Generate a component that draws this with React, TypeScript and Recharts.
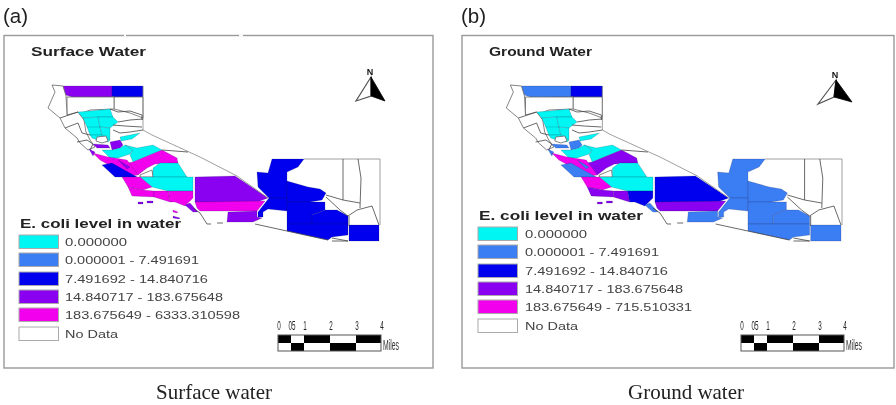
import React from 'react';
import { ScatterChart, Scatter, XAxis, YAxis } from 'recharts';

type Pt = [number, number];

const WIDTH = 896;
const HEIGHT = 405;

// class colours, index = legend row, last one is "No Data"
const classColors = ['#00f6f2', '#3b7df2', '#0000ee', '#8a00f0', '#f200ee', '#ffffff'];

// map outlines, in map units of the surface water panel
const countyNames = [
  'Siskiyou', 'Modoc', 'Lassen', 'Shasta', 'NorthCoast', 'Tehama', 'Glenn', 'Butte', 'Colusa', 'Sutter',
  'Yolo', 'Solano', 'ContraCosta', 'SanJoaquin', 'Placer', 'Stanislaus', 'Madera', 'Fresno', 'SantaCruz', 'SantaClara',
  'Monterey', 'SanBenito', 'Kings', 'Tulare', 'Kern', 'SanLuisObispo', 'SantaBarbara', 'Ventura', 'LosAngeles', 'Orange',
  'SanBernardino', 'Riverside', 'Imperial', 'Mohave', 'LaPaz', 'Coconino', 'Maricopa', 'Pinal', 'Pima', 'Cochise',
  'Island1', 'Island2', 'Island3', 'Island4',
];

const countyShapes: Pt[][] = [
  [[63, 86], [112, 86], [112, 97], [92, 97], [84, 99], [72, 97], [66, 95], [63, 90]],
  [[112, 86], [143, 86], [143, 97], [112, 97]],
  [[112, 97], [143, 97], [143, 118], [130, 113], [114, 109], [114, 97]],
  [[67, 97], [92, 97], [114, 97], [114, 109], [90, 110], [78, 115], [67, 115]],
  [[52, 85], [63, 86], [66, 96], [67, 115], [78, 112], [84, 120], [86, 132], [90, 140], [95, 147], [88, 150], [80, 143], [77, 138], [65, 128], [60, 118], [48, 108], [55, 92]],
  [[78, 112], [90, 111], [110, 109], [113, 117], [98, 117], [83, 118]],
  [[83, 118], [98, 117], [100, 127], [92, 129], [87, 127]],
  [[98, 117], [113, 117], [118, 122], [110, 128], [100, 127]],
  [[87, 127], [100, 127], [102, 135], [90, 135]],
  [[100, 127], [110, 128], [110, 140], [102, 135]],
  [[90, 135], [102, 135], [110, 140], [108, 142], [100, 141], [92, 138]],
  [[97, 137], [106, 136], [108, 141], [102, 143], [96, 141]],
  [[93, 144], [108, 145], [110, 148], [97, 148]],
  [[110, 142], [120, 140], [123, 145], [120, 148], [112, 150]],
  [[120, 137], [140, 133], [132, 139], [121, 141]],
  [[102, 150], [112, 150], [120, 148], [125, 145], [133, 150], [130, 154], [118, 158], [110, 158]],
  [[125, 145], [137, 148], [153, 145], [162, 150], [145, 157], [133, 162], [130, 155], [133, 150]],
  [[133, 162], [145, 157], [162, 150], [177, 158], [178, 163], [155, 164], [147, 168], [138, 175], [127, 163]],
  [[89, 149], [95, 152], [93, 156]],
  [[93, 153], [108, 157], [127, 160], [133, 168], [138, 175], [130, 176], [118, 170], [100, 160]],
  [[102, 165], [112, 163], [137, 177], [115, 177]],
  [[118, 160], [130, 167], [127, 169]],
  [[140, 175], [152, 170], [153, 177], [140, 177]],
  [[153, 177], [153, 168], [160, 163], [178, 163], [187, 177]],
  [[140, 177], [193, 177], [193, 191], [168, 191], [152, 187]],
  [[122, 177], [140, 177], [152, 187], [143, 190], [128, 187]],
  [[128, 187], [143, 190], [154, 191], [154, 197], [132, 196]],
  [[154, 191], [168, 191], [170, 202], [154, 197]],
  [[168, 191], [193, 191], [193, 198], [185, 206], [175, 202], [170, 202]],
  [[185, 205], [190, 203], [198, 212], [193, 212]],
  [[195, 177], [235, 176], [268, 198], [257, 202], [195, 202]],
  [[195, 202], [265, 201], [257, 211], [200, 211], [197, 208]],
  [[228, 212], [257, 211], [257, 217], [262, 218], [253, 222], [227, 222]],
  [[257, 172], [268, 173], [272, 159], [304, 159], [298, 167], [287, 172], [287, 198], [269, 198], [258, 187]],
  [[269, 198], [287, 198], [287, 211], [268, 209], [263, 212], [263, 217], [258, 217], [258, 212]],
  [[287, 181], [308, 187], [320, 189], [326, 193], [322, 200], [310, 202], [287, 202]],
  [[287, 202], [310, 202], [325, 202], [325, 210], [312, 215], [312, 224], [287, 224]],
  [[312, 215], [325, 210], [337, 210], [348, 216], [348, 224], [312, 224]],
  [[287, 224], [348, 224], [348, 235], [332, 237], [328, 240], [287, 231]],
  [[349, 225], [379, 225], [379, 241], [349, 241]],
  [[138, 202], [143, 202], [143, 204], [138, 204]],
  [[147, 201], [153, 201], [153, 203], [147, 203]],
  [[173, 210], [178, 212], [177, 213], [173, 212]],
  [[173, 216], [180, 218], [179, 219], [173, 218]],
];

// legend class of each county, same order as countyNames, -1 = not drawn
const surfaceClass = [
  3, 2, 5, 5, 5, 0, 0, 0, 0, 0,
  0, 5, 3, 3, 0, 0, 0, 4, 3, 4,
  2, 3, 5, 0, 0, 4, 4, 4, 4, 3,
  3, 4, 3, 2, 2, 2, 2, 2, 2, 2,
  3, 3, 4, 3,
];
const groundClass = [
  1, 2, 5, 5, 5, 0, 0, 0, 0, 0,
  0, 5, 1, 1, 0, 0, 0, 3, 1, 4,
  1, 1, 5, 0, 0, 4, 3, 3, 2, 1,
  2, 3, 1, 1, 1, 1, 1, 1, 1, 1,
  3, 3, -1, -1,
];

const boundaryLines: Pt[][] = [
  [[143, 86], [143, 130], [152, 135], [200, 157], [237, 176], [268, 198]],
  [[162, 150], [188, 152]],
  [[110, 109], [118, 112], [130, 111], [142, 115], [142, 120]],
  [[118, 122], [130, 120], [143, 119]],
  [[113, 125], [125, 126], [142, 127]],
  [[113, 130], [120, 133], [130, 132], [143, 130]],
  [[60, 118], [78, 112]],
  [[65, 128], [78, 123], [82, 133], [90, 135]],
  [[77, 142], [87, 140], [93, 144], [90, 150]],
  [[304, 159], [380, 159], [380, 225]],
  [[343, 159], [343, 200], [360, 203]],
  [[358, 159], [361, 178], [360, 208]],
  [[326, 197], [340, 210], [348, 216], [357, 210], [372, 206], [379, 225]],
  [[326, 195], [343, 200]],
  [[349, 226], [349, 216]],
  [[332, 238], [348, 241], [332, 241]],
  [[255, 224], [287, 231], [328, 240]],
  [[200, 213], [207, 224], [211, 224]],
  [[217, 223], [223, 223]],
  [[193, 208], [200, 213]],
];

const legendRanges = [
  '0.000000',
  '0.000001 - 7.491691',
  '7.491692 - 14.840716',
  '14.840717 - 183.675648',
];
const surfaceTop = '183.675649 - 6333.310598';
const groundTop = '183.675649 - 715.510331';
const legendWidths = [62, 134, 143, 158];
const scaleTicks = ['0', '05', '1', '2', '3', '4'];
const scaleTickOffsets = [0, 13, 26, 52, 78, 103];

// second panel is shifted and very slightly wider than the first
const toGround = ([x, y]: Pt): Pt => [x + 459 + (x - 112) * 0.0112, y];

const toRows = (pts: Pt[]) => pts.map(([x, y]) => ({ x, y }));

const noDot = () => <g />;

const polygon = (fill: string, stroke: string, width: number) => (props: any) => (
  <polygon
    points={props.points.map((p: any) => `${p.x},${p.y}`).join(' ')}
    fill={fill}
    stroke={stroke}
    strokeWidth={width}
  />
);

const polyline = (stroke: string, width: number) => (props: any) => (
  <polyline
    points={props.points.map((p: any) => `${p.x},${p.y}`).join(' ')}
    fill="none"
    stroke={stroke}
    strokeWidth={width}
  />
);

const renderMap = (panel: string, classes: number[], move: (p: Pt) => Pt) => [
  ...countyShapes.map((shape, i) =>
    classes[i] < 0 ? null : (
      <Scatter
        key={`${panel}-${countyNames[i]}`}
        data={toRows(shape.map(move))}
        isAnimationActive={false}
        shape={noDot}
        line={
          classes[i] === 5
            ? polygon('#ffffff', '#666666', 0.8)
            : polygon(classColors[classes[i]], 'rgba(30,30,70,0.3)', 0.6)
        }
      />
    ),
  ),
  ...boundaryLines.map((line, i) => (
    <Scatter
      key={`${panel}-line-${i}`}
      data={toRows(line.map(move))}
      isAnimationActive={false}
      shape={noDot}
      line={polyline(i === 0 || i === 9 ? '#888888' : '#444444', 0.8)}
    />
  )),
];

const sans = '"Liberation Sans", Arial, sans-serif';

const Legend = ({ x, y, titleEnd, top, topWidth, labelX }: any) => {
  const rowYs = [0, 18, 37, 55, 73, 92];
  return (
    <g fontFamily={sans}>
      <text x={x + 1} y={y - 7} fontSize={12.5} fontWeight="bold" fill="#222" textLength={titleEnd - x - 1} lengthAdjust="spacingAndGlyphs">
        E. coli level in water
      </text>
      {rowYs.map((dy, i) => (
        <rect key={i} x={x} y={y + dy} width={39.5} height={13.5} fill={classColors[i]} stroke="#aaa" strokeWidth={1} />
      ))}
      {legendRanges.map((t, i) => (
        <text key={t} x={labelX} y={y + rowYs[i] + 11} fontSize={11.5} fill="#444" textLength={legendWidths[i]} lengthAdjust="spacingAndGlyphs">
          {t}
        </text>
      ))}
      <text x={labelX} y={y + rowYs[4] + 11} fontSize={11.5} fill="#444" textLength={topWidth} lengthAdjust="spacingAndGlyphs">
        {top}
      </text>
      <text x={labelX} y={y + rowYs[5] + 11} fontSize={11.5} fill="#444" textLength={53} lengthAdjust="spacingAndGlyphs">
        No Data
      </text>
    </g>
  );
};

const ScaleBar = ({ x, y }: any) => {
  const cuts = [0, 13, 26, 52, 78, 103];
  return (
    <g fontFamily={sans}>
      {cuts.slice(0, -1).map((c, i) => (
        <g key={c}>
          <rect x={x + c} y={y} width={cuts[i + 1] - c} height={8} fill={i % 2 ? '#fff' : '#000'} />
          <rect x={x + c} y={y + 8} width={cuts[i + 1] - c} height={8} fill={i % 2 ? '#000' : '#fff'} />
        </g>
      ))}
      <rect x={x} y={y} width={103} height={16} fill="none" stroke="#555" strokeWidth={1} />
      {scaleTicks.map((t, i) => (
        <text key={t} x={x + scaleTickOffsets[i] + 1} y={y - 5} fontSize={13} fill="#222" textAnchor="middle" textLength={t.length * 3.5} lengthAdjust="spacingAndGlyphs">
          {t}
        </text>
      ))}
      <text x={x + 105} y={y + 15} fontSize={14} fill="#333" textLength={16} lengthAdjust="spacingAndGlyphs">
        Miles
      </text>
    </g>
  );
};

const NorthArrow = ({ apex, left, right, notch, nx, ny }: any) => (
  <g>
    <polygon points={`${apex} ${left} ${notch}`} fill="#fff" stroke="#555" strokeWidth={1.2} />
    <polygon points={`${apex} ${right} ${notch}`} fill="#000" stroke="#000" strokeWidth={0.8} />
    <text x={nx} y={ny} fontSize={9} fontWeight="bold" fontFamily={sans} textAnchor="middle" fill="#111">
      N
    </text>
  </g>
);

const Panel = ({ x, width, letter, title, titleWidth }: any) => (
  <g fontFamily={sans}>
    <text x={x - 1} y={23} fontSize={20.5} fill="#222">{letter}</text>
    <rect x={x} y={35.5} width={width} height={332.5} fill="none" stroke="#999" strokeWidth={1.4} />
    <text x={x + 27} y={56} fontSize={12.5} fontWeight="bold" fill="#222" textLength={titleWidth} lengthAdjust="spacingAndGlyphs">
      {title}
    </text>
  </g>
);

export default function App() {
  return (
    <div style={{ position: 'absolute', left: 0, top: 0, width: WIDTH, height: HEIGHT, filter: 'blur(0.55px)' }}>
      <ScatterChart width={WIDTH} height={HEIGHT} margin={{ top: 0, right: 0, bottom: 0, left: 0 }}>
        <XAxis type="number" dataKey="x" domain={[0, WIDTH]} hide />
        <YAxis type="number" dataKey="y" domain={[0, HEIGHT]} reversed hide />

        <Panel x={4} width={429} letter="(a)" title="Surface Water" titleWidth={115} />
        <Panel x={462} width={432} letter="(b)" title="Ground Water" titleWidth={103} />
        <line x1={124} x2={126} y1={35.5} y2={35.5} stroke="#fff" strokeWidth={2} />
        <line x1={239} x2={243} y1={35.5} y2={35.5} stroke="#fff" strokeWidth={2} />

        {renderMap('surface', surfaceClass, (p) => p)}
        {renderMap('ground', groundClass, toGround)}

        <circle cx={82} cy={93} r={2.8} fill="#fff" />

        <Legend x={19} y={235} titleEnd={181} top={surfaceTop} topWidth={175} labelX={65} />
        <Legend x={478} y={227} titleEnd={643} top={groundTop} topWidth={167} labelX={525} />

        <ScaleBar x={278} y={335} />
        <ScaleBar x={741} y={335} />

        <NorthArrow apex="371,77" left="356,101" right="385,101" notch="371,96" nx={370} ny={75} />
        <NorthArrow apex="836,80" left="818,104" right="852,102" notch="834,97" nx={835} ny={78} />

        <text x={214} y={399} fontSize={21} fontFamily='"Liberation Serif", serif' textAnchor="middle" fill="#222">
          Surface water
        </text>
        <text x={686} y={399} fontSize={21} fontFamily='"Liberation Serif", serif' textAnchor="middle" fill="#222">
          Ground water
        </text>
      </ScatterChart>
    </div>
  );
}
